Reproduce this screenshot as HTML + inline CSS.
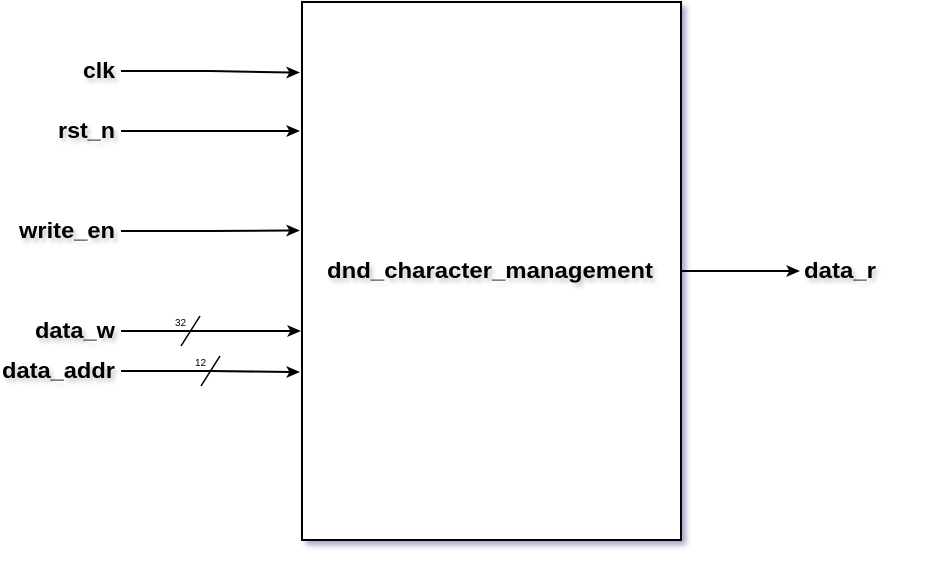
<!DOCTYPE html>
<html><head><meta charset="utf-8"><style>
html,body{margin:0;padding:0;background:#fff;}
svg{display:block;}
text{font-family:"Liberation Sans",Arial,sans-serif;font-weight:bold;}
text.n{font-weight:normal;}
</style></head><body>
<svg width="944" height="564" viewBox="0 0 944 564" xmlns="http://www.w3.org/2000/svg">
<defs>
<filter id="sh" x="-10%" y="-10%" width="130%" height="130%">
<feGaussianBlur stdDeviation="3"/>
</filter>
<filter id="ts" x="-20%" y="-40%" width="140%" height="200%">
<feGaussianBlur in="SourceAlpha" stdDeviation="2.5"/>
<feOffset dx="3" dy="4"/>
<feComponentTransfer><feFuncA type="linear" slope="0.22"/></feComponentTransfer>
<feMerge><feMergeNode/><feMergeNode in="SourceGraphic"/></feMerge>
</filter>
</defs>
<rect x="306" y="6" width="380" height="539" fill="#8888b8" opacity="0.75" filter="url(#sh)"/>
<rect x="302" y="2" width="379" height="538" fill="#fff" stroke="#000" stroke-width="2"/>
<text x="327" y="278" font-size="22" textLength="326" lengthAdjust="spacingAndGlyphs" filter="url(#ts)">dnd_character_management</text>
<g stroke="#000" stroke-width="2" fill="none">
<path d="M121,71 L210,71 L290,72.5"/>
<path d="M121,131 L290,131"/>
<path d="M121,231 L210,231 L290,230.5"/>
<path d="M121,331 L291,331"/>
<path d="M121,371 L210,371 L290,372"/>
<path d="M682,271 L790,271"/>
<path d="M181,346 L200,316" stroke-width="1.5"/>
<path d="M201,386 L220,356" stroke-width="1.5"/>
</g>
<g fill="#000">
<path d="M300,72.5 L286,66.5 L289.5,72.5 L286,78.5 Z"/>
<path d="M300,131 L286,125 L289.5,131 L286,137 Z"/>
<path d="M300,230.5 L286,224.5 L289.5,230.5 L286,236.5 Z"/>
<path d="M301,331 L287,325 L290.5,331 L287,337 Z"/>
<path d="M300,372 L286,366 L289.5,372 L286,378 Z"/>
<path d="M800,271 L786,265 L789.5,271 L786,277 Z"/>
</g>
<g font-size="22" filter="url(#ts)">
<text x="83" y="78" textLength="32" lengthAdjust="spacingAndGlyphs">clk</text>
<text x="58" y="138" textLength="57" lengthAdjust="spacingAndGlyphs">rst_n</text>
<text x="19" y="238" textLength="96" lengthAdjust="spacingAndGlyphs">write_en</text>
<text x="35" y="338" textLength="80" lengthAdjust="spacingAndGlyphs">data_w</text>
<text x="2" y="378" textLength="113" lengthAdjust="spacingAndGlyphs">data_addr</text>
<text x="804" y="278" textLength="72" lengthAdjust="spacingAndGlyphs">data_r</text>
</g>
<text class="n" x="175" y="326" font-size="10">32</text>
<text class="n" x="195" y="366" font-size="10">12</text>
</svg>
</body></html>
